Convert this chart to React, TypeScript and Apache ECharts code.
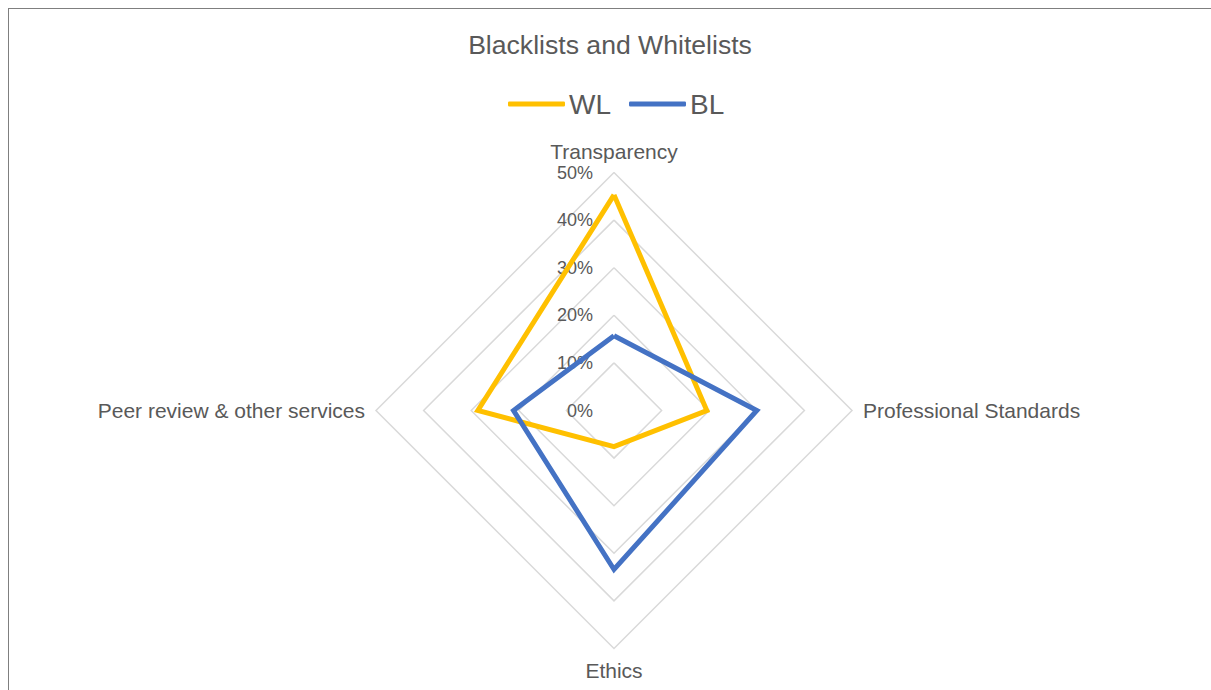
import React, { useEffect, useRef } from "react";
import * as echarts from "echarts";

// ECharts radar places indicators counter-clockwise from the top
const categories = ["Transparency", "Peer review & other services", "Ethics", "Professional Standards"];
const wlValues = [45.3, 28.6, 7.6, 19.5];
const blValues = [15.7, 21.1, 33.4, 30.0];
const seriesNames = ["WL", "BL"];
const axisMax = 50;

const FONT = "'Liberation Sans', Arial, sans-serif";
const TEXT = "#595959";

export default function App() {
  const ref = useRef<HTMLDivElement>(null);
  useEffect(() => {
    if (!ref.current) return;
    const chart = echarts.init(ref.current, undefined, { renderer: "svg" });
    chart.setOption({
      animation: false,
      backgroundColor: "#ffffff",
      title: {
        text: "Blacklists and Whitelists",
        left: "center",
        top: 17,
        textStyle: { fontFamily: FONT, fontSize: 26.6, fontWeight: "normal", color: TEXT },
      },
      legend: {
        data: seriesNames,
        top: 76,
        left: 494,
        icon: "roundRect",
        itemWidth: 57,
        itemHeight: 5,
        itemGap: 18,
        textStyle: { fontFamily: FONT, fontSize: 28, color: TEXT, padding: [0, 0, 0, -1] },
      },
      radar: {
        center: [605, 401.5],
        radius: 238,
        startAngle: 90,
        shape: "polygon",
        splitNumber: 5,
        nameGap: 11,
        axisName: { fontFamily: FONT, fontSize: 21, color: TEXT },
        indicator: categories.map((name, i) => ({
          name,
          min: 0,
          max: axisMax,
          axisLabel: { show: i === 0 },
        })),
        axisLine: { show: false },
        axisTick: { show: false },
        splitArea: { show: false },
        splitLine: { lineStyle: { color: "#d9d9d9", width: 1.5 } },
        axisLabel: {
          show: true,
          fontFamily: FONT,
          fontSize: 18,
          color: TEXT,
          margin: 21,
          formatter: (v: number) => `${v}%`,
        },
      },
      series: [
        {
          type: "radar",
          symbol: "none",
          data: [
            {
              name: seriesNames[0],
              value: wlValues,
              itemStyle: { color: "#FFC000" },
              lineStyle: { color: "#FFC000", width: 5, join: "miter" },
            },
            {
              name: seriesNames[1],
              value: blValues,
              itemStyle: { color: "#4472C4" },
              lineStyle: { color: "#4472C4", width: 5, join: "miter" },
            },
          ],
        },
      ],
    });
    return () => chart.dispose();
  }, []);
  return (
    <div
      style={{
        position: "fixed",
        left: 8,
        top: 8,
        right: 0,
        bottom: 0,
        borderLeft: "1px solid #7f7f7f",
        borderTop: "1px solid #7f7f7f",
        background: "#fff",
      }}
    >
      <div ref={ref} style={{ position: "absolute", left: 0, top: 0, width: 1202, height: 681 }} />
    </div>
  );
}
